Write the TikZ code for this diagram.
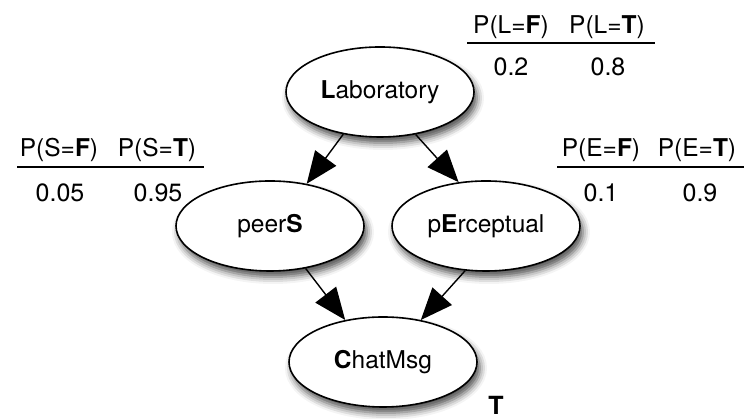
\documentclass[tikz,border=0pt]{standalone}
\usepackage{fontspec}
\setmainfont{TeX Gyre Heros}
\usetikzlibrary{arrows.meta,shapes.geometric,shadows.blur}
\tikzset{
  var/.style={ellipse, draw=black, line width=1.6pt, fill=white, minimum width=188pt, minimum height=90pt, inner sep=0pt, font=\fontsize{24.5}{28}\selectfont,
    blur shadow={shadow xshift=3pt, shadow yshift=-6pt, shadow blur radius=7pt, shadow opacity=70}},
  edge/.style={line width=1.4pt, -{Triangle[length=32pt,width=26pt]}},
  head/.style={inner sep=0pt, font=\fontsize{24.5}{29}\selectfont},
  val/.style={inner sep=0pt, font=\fontsize{25}{29}\selectfont},
  rule/.style={line width=2pt}
}
\begin{document}
\begin{tikzpicture}[x=1pt,y=1pt]
\useasboundingbox (0,0) rectangle (755,419);
% nodes
\node[var] (L) at (380,327) {\textbf{L}aboratory};
\node[var] (S) at (270,193) {peer\textbf{S}};
\node[var] (E) at (486,193) {p\textbf{E}rceptual};
\node[var] (C) at (383,57) {\textbf{C}hatMsg};
% edges
\draw[edge] (L.229) -- (S.49);
\draw[edge] (L.310) -- (E.122);
\draw[edge] (S.310) -- (C.132);
\draw[edge] (E.245) -- (C.48);
% table L
\node[head] (lh1) at (511,392) {P(L=\textbf{F})};
\node[head] (lh2) at (607,392) {P(L=\textbf{T})};
\coordinate (la) at (467,376);
\coordinate (lb) at (655,376);
\draw[rule] (la) -- (lb);
\node[val] (lv1) at (511,352) {0.2};
\node[val] (lv2) at (608,352) {0.8};
% table S
\node[head] (sh1) at (59,269) {P(S=\textbf{F})};
\node[head] (sh2) at (157,269) {P(S=\textbf{T})};
\coordinate (sa) at (17,252);
\coordinate (sb) at (204,252);
\draw[rule] (sa) -- (sb);
\node[val] (sv1) at (60,226) {0.05};
\node[val] (sv2) at (158,226) {0.95};
% table E
\node[head] (eh1) at (601,269) {P(E=\textbf{F})};
\node[head] (eh2) at (697,269) {P(E=\textbf{T})};
\coordinate (ea) at (557,252);
\coordinate (eb) at (744,252);
\draw[rule] (ea) -- (eb);
\node[val] (ev1) at (601,226) {0.1};
\node[val] (ev2) at (700,226) {0.9};
% T
\node[val] (t) at (496,13.5) {\textbf{T}};
\end{tikzpicture}
\end{document}
